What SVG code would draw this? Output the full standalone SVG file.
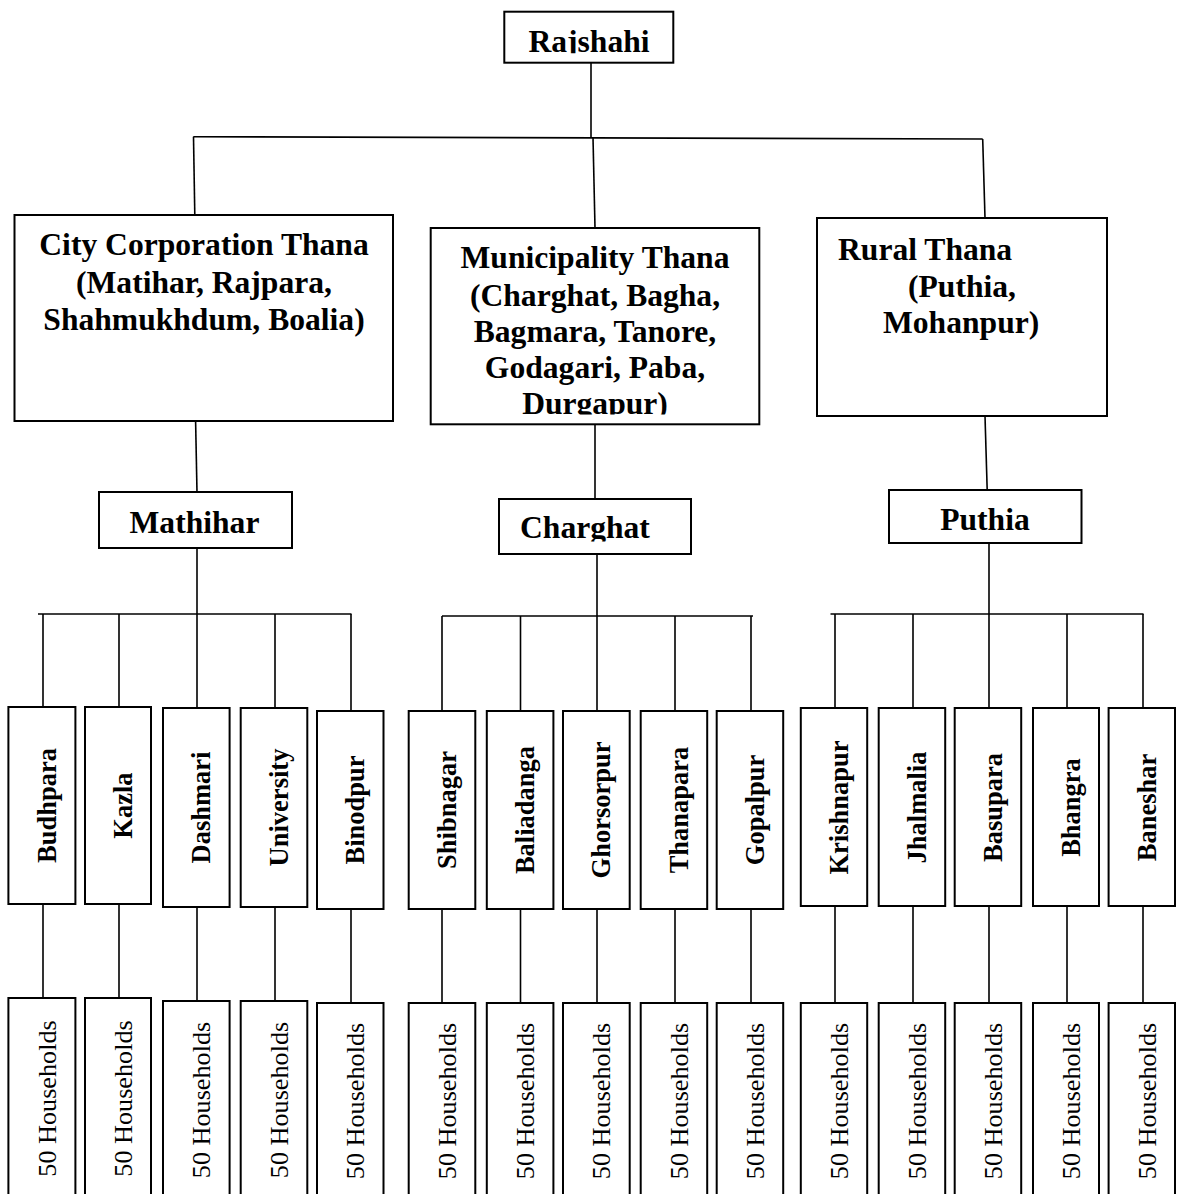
<svg xmlns="http://www.w3.org/2000/svg" width="1179" height="1194" viewBox="0 0 1179 1194">
<style>
.box{fill:#fff;stroke:#000;stroke-width:2}
.ln{stroke:#000;stroke-width:1.6;fill:none}
.h{font-family:"Liberation Serif","Times New Roman",serif;font-weight:bold;font-size:31.6px;fill:#000}
.v{font-family:"Liberation Serif","Times New Roman",serif;font-weight:bold;font-size:26.5px;fill:#000;text-anchor:middle}
.hh{font-family:"Liberation Serif","Times New Roman",serif;font-size:26.2px;fill:#000;text-anchor:middle}
.m{text-anchor:middle}
</style>
<defs>
<clipPath id="cRaj"><rect x="500" y="0" width="180" height="53.3"/></clipPath>
<clipPath id="cMun"><rect x="425" y="220" width="340" height="194.5"/></clipPath>
<clipPath id="cChg"><rect x="495" y="495" width="200" height="46.5"/></clipPath>
</defs>
<rect width="1179" height="1194" fill="#fff"/>
<g id="connectors">
<line class="ln" x1="591" y1="63" x2="591" y2="137"/>
<line class="ln" x1="193.3" y1="136.7" x2="982.7" y2="139"/>
<line class="ln" x1="193.5" y1="136.7" x2="194.8" y2="215"/>
<line class="ln" x1="593" y1="137.5" x2="595" y2="228"/>
<line class="ln" x1="982.7" y1="139" x2="985" y2="218"/>
<line class="ln" x1="195.6" y1="421" x2="197" y2="492"/>
<line class="ln" x1="595" y1="424" x2="595" y2="499"/>
<line class="ln" x1="985" y1="416" x2="987.2" y2="490"/>
<line class="ln" x1="197" y1="548" x2="197" y2="614"/>
<line class="ln" x1="597" y1="554" x2="597" y2="616"/>
<line class="ln" x1="989" y1="543" x2="989" y2="614"/>
<line class="ln" x1="38" y1="614" x2="351.5" y2="614"/>
<line class="ln" x1="442" y1="616" x2="753" y2="616"/>
<line class="ln" x1="830.5" y1="614" x2="1143.5" y2="614"/>
<path class="ln" d="M43 614V707M119 614V707M197 614V708M275 614V708M351 614V711"/>
<path class="ln" d="M442 616V711M520.5 616V711M597 616V711M675 616V711M751 616V711"/>
<path class="ln" d="M835 614V708M913 614V708M989 614V708M1067 614V708M1143 614V708"/>
<path class="ln" d="M43 904V998M119 904V998M197 907V1001M275 907V1001M351 909V1003"/>
<path class="ln" d="M442 909V1003M520.5 909V1003M597 909V1003M675 909V1003M751 909V1003"/>
<path class="ln" d="M835 906V1003M913 906V1003M989 906V1003M1067 906V1003M1143 906V1003"/>
</g>
<g id="n-rajshahi">
<rect class="box" x="504.3" y="11.7" width="169" height="51"/>
<text class="h m" x="589" y="51.7" clip-path="url(#cRaj)">Rajshahi</text>
</g>
<g id="n-city">
<rect class="box" x="14.5" y="215" width="378.5" height="206"/>
<text class="h m" x="204"><tspan x="204" y="255">City Corporation Thana</tspan><tspan x="204" y="292.7">(Matihar, Rajpara,</tspan><tspan x="204" y="330">Shahmukhdum, Boalia)</tspan></text>
</g>
<g id="n-municipality">
<rect class="box" x="430.7" y="228" width="328.6" height="196.3"/>
<g clip-path="url(#cMun)">
<text class="h m" x="595"><tspan x="595" y="268.3">Municipality Thana</tspan><tspan x="595" y="305.5">(Charghat, Bagha,</tspan><tspan x="595" y="341.7">Bagmara, Tanore,</tspan><tspan x="595" y="378">Godagari, Paba,</tspan><tspan x="595" y="413.5">Durgapur)</tspan></text>
</g>
</g>
<g id="n-rural">
<rect class="box" x="817" y="218" width="290" height="198"/>
<text class="h"><tspan x="838" y="260">Rural Thana</tspan><tspan x="908" y="297">(Puthia,</tspan><tspan x="883" y="333.3">Mohanpur)</tspan></text>
</g>
<g id="n-mathihar">
<rect class="box" x="99" y="492" width="193" height="56"/>
<text class="h m" x="194.5" y="533">Mathihar</text>
</g>
<g id="n-charghat">
<rect class="box" x="499" y="499" width="192" height="55"/>
<text class="h" x="520" y="538.3" clip-path="url(#cChg)">Charghat</text>
</g>
<g id="n-puthia">
<rect class="box" x="889" y="490" width="192.5" height="53"/>
<text class="h m" x="985" y="530">Puthia</text>
</g>
<g id="n-budhpara"><rect class="box" x="8.4" y="707" width="67" height="197"/><text class="v" transform="translate(55.5,805.5) rotate(-90)">Budhpara</text></g>
<g id="n-kazla"><rect class="box" x="85" y="707" width="66" height="197"/><text class="v" transform="translate(132,805.5) rotate(-90)">Kazla</text></g>
<g id="n-dashmari"><rect class="box" x="163" y="708" width="66.6" height="199"/><text class="v" transform="translate(210,807.5) rotate(-90)">Dashmari</text></g>
<g id="n-university"><rect class="box" x="240.7" y="708" width="66.6" height="199"/><text class="v" transform="translate(288,807.5) rotate(-90)">University</text></g>
<g id="n-binodpur"><rect class="box" x="317" y="711" width="66.5" height="198"/><text class="v" transform="translate(364,810) rotate(-90)">Binodpur</text></g>
<g id="n-shibnagar"><rect class="box" x="408.7" y="711" width="66.6" height="198"/><text class="v" transform="translate(455.5,810) rotate(-90)">Shibnagar</text></g>
<g id="n-baliadanga"><rect class="box" x="486.8" y="711" width="66.6" height="198"/><text class="v" transform="translate(533.5,810) rotate(-90)">Baliadanga</text></g>
<g id="n-ghorsorpur"><rect class="box" x="563" y="711" width="66.7" height="198"/><text class="v" transform="translate(610,810) rotate(-90)">Ghorsorpur</text></g>
<g id="n-thanapara"><rect class="box" x="640.7" y="711" width="66.5" height="198"/><text class="v" transform="translate(688,810) rotate(-90)">Thanapara</text></g>
<g id="n-gopalpur"><rect class="box" x="716.7" y="711" width="66.5" height="198"/><text class="v" transform="translate(764,810) rotate(-90)">Gopalpur</text></g>
<g id="n-krishnapur"><rect class="box" x="800.8" y="708" width="66.4" height="198"/><text class="v" transform="translate(848,807.5) rotate(-90)">Krishnapur</text></g>
<g id="n-jhalmalia"><rect class="box" x="878.7" y="708" width="66.5" height="198"/><text class="v" transform="translate(926,807.5) rotate(-90)">Jhalmalia</text></g>
<g id="n-basupara"><rect class="box" x="954.7" y="708" width="66.5" height="198"/><text class="v" transform="translate(1002,807.5) rotate(-90)">Basupara</text></g>
<g id="n-bhangra"><rect class="box" x="1033" y="708" width="66" height="198"/><text class="v" transform="translate(1080,807.5) rotate(-90)">Bhangra</text></g>
<g id="n-baneshar"><rect class="box" x="1108.6" y="708" width="66.4" height="198"/><text class="v" transform="translate(1155.5,807.5) rotate(-90)">Baneshar</text></g>
<g id="n-hh1"><rect class="box" x="8.4" y="998" width="67" height="220"/><text class="hh" transform="translate(55.5,1098.5) rotate(-90)">50 Households</text></g>
<g id="n-hh2"><rect class="box" x="85" y="998" width="66" height="220"/><text class="hh" transform="translate(132,1098.5) rotate(-90)">50 Households</text></g>
<g id="n-hh3"><rect class="box" x="163" y="1001" width="66.6" height="220"/><text class="hh" transform="translate(210,1100) rotate(-90)">50 Households</text></g>
<g id="n-hh4"><rect class="box" x="240.7" y="1001" width="66.6" height="220"/><text class="hh" transform="translate(288,1100) rotate(-90)">50 Households</text></g>
<g id="n-hh5"><rect class="box" x="317" y="1003" width="66.5" height="220"/><text class="hh" transform="translate(364,1101) rotate(-90)">50 Households</text></g>
<g id="n-hh6"><rect class="box" x="408.7" y="1003" width="66.6" height="220"/><text class="hh" transform="translate(455.5,1101) rotate(-90)">50 Households</text></g>
<g id="n-hh7"><rect class="box" x="486.8" y="1003" width="66.6" height="220"/><text class="hh" transform="translate(533.5,1101) rotate(-90)">50 Households</text></g>
<g id="n-hh8"><rect class="box" x="563" y="1003" width="66.7" height="220"/><text class="hh" transform="translate(610,1101) rotate(-90)">50 Households</text></g>
<g id="n-hh9"><rect class="box" x="640.7" y="1003" width="66.5" height="220"/><text class="hh" transform="translate(688,1101) rotate(-90)">50 Households</text></g>
<g id="n-hh10"><rect class="box" x="716.7" y="1003" width="66.5" height="220"/><text class="hh" transform="translate(764,1101) rotate(-90)">50 Households</text></g>
<g id="n-hh11"><rect class="box" x="800.8" y="1003" width="66.4" height="220"/><text class="hh" transform="translate(848,1101) rotate(-90)">50 Households</text></g>
<g id="n-hh12"><rect class="box" x="878.7" y="1003" width="66.5" height="220"/><text class="hh" transform="translate(926,1101) rotate(-90)">50 Households</text></g>
<g id="n-hh13"><rect class="box" x="954.7" y="1003" width="66.5" height="220"/><text class="hh" transform="translate(1002,1101) rotate(-90)">50 Households</text></g>
<g id="n-hh14"><rect class="box" x="1033" y="1003" width="66" height="220"/><text class="hh" transform="translate(1080,1101) rotate(-90)">50 Households</text></g>
<g id="n-hh15"><rect class="box" x="1108.6" y="1003" width="66.4" height="220"/><text class="hh" transform="translate(1155.5,1101) rotate(-90)">50 Households</text></g>
</svg>
